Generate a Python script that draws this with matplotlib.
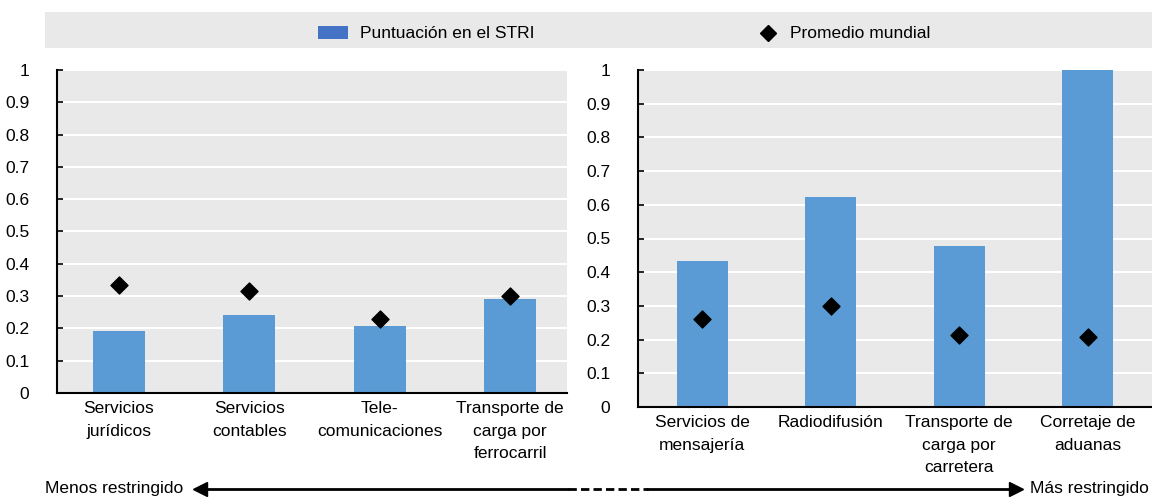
import matplotlib.pyplot as plt
from matplotlib.patches import Rectangle
from matplotlib.lines import Line2D

# data
left_labels = ["Servicios\njurídicos", "Servicios\ncontables", "Tele-\ncomunicaciones",
               "Transporte de\ncarga por\nferrocarril"]
left_stri = [0.192, 0.240, 0.207, 0.291]
left_avg = [0.335, 0.317, 0.230, 0.301]

right_labels = ["Servicios de\nmensajería", "Radiodifusión", "Transporte de\ncarga por\ncarretera",
                "Corretaje de\naduanas"]
right_stri = [0.433, 0.622, 0.477, 1.0]
right_avg = [0.260, 0.299, 0.214, 0.207]

yticks = [0, 0.1, 0.2, 0.3, 0.4, 0.5, 0.6, 0.7, 0.8, 0.9, 1]
ytick_labels = ["0", "0.1", "0.2", "0.3", "0.4", "0.5", "0.6", "0.7", "0.8", "0.9", "1"]

BAR = "#5B9BD5"
BG = "#E9E9E9"

plt.rcParams['font.family'] = ['Liberation Sans Narrow', 'Liberation Sans', 'DejaVu Sans']
plt.rcParams['font.size'] = 12.5

fig = plt.figure(figsize=(11.52, 4.97), dpi=100)

ax1 = fig.add_axes([57/1152, 1-393/497, (567-57)/1152, (393-70)/497])
ax2 = fig.add_axes([638/1152, 1-407/497, (1152-638)/1152, (407-70)/497])


def draw(ax, labels, stri, avg, xmin, xmax):
    x = list(range(len(labels)))
    ax.set_facecolor(BG)
    ax.set_axisbelow(True)
    ax.grid(axis="y", color="white", linewidth=1.5)
    ax.bar(x, stri, width=0.4, color=BAR, zorder=2)
    ax.scatter(x, avg, marker="D", s=75, color="black", zorder=3)
    ax.set_xlim(xmin, xmax)
    ax.set_ylim(0, 1)
    ax.set_yticks(yticks)
    ax.set_yticklabels(ytick_labels)
    ax.set_xticks(x)
    ax.set_xticklabels(labels, linespacing=1.6)
    ax.tick_params(axis="x", length=0, pad=6)
    ax.tick_params(axis="y", direction="in", length=4, width=1.2, pad=20)
    for s in ["top", "right"]:
        ax.spines[s].set_visible(False)
    for s in ["left", "bottom"]:
        ax.spines[s].set_linewidth(1.5)


draw(ax1, left_labels, left_stri, left_avg, -0.475, 3.437)
draw(ax2, right_labels, right_stri, right_avg, -0.5, 3.5)

# legend band
yl = 1-33/497
fig.add_artist(Rectangle((45/1152, 1-48/497), 1-45/1152, 36/497, transform=fig.transFigure,
                         facecolor=BG, edgecolor="none"))
fig.add_artist(Rectangle((318/1152, 1-39/497), 30/1152, 13/497, transform=fig.transFigure,
                         facecolor="#4472C4", edgecolor="none"))
fig.text(360/1152, yl, "Puntuación en el STRI", va="center", ha="left")
fig.add_artist(Line2D([768/1152], [yl], marker="D", markersize=8.5, color="black",
                      transform=fig.transFigure))
fig.text(790/1152, yl, "Promedio mundial", va="center", ha="left")

# bottom arrow
ya = 1-489/497
fig.text(183/1152, ya, "Menos restringido", ha="right", va="center")
fig.text(1030/1152, ya, "Más restringido", ha="left", va="center")
fig.add_artist(Line2D([205/1152, 568/1152], [ya, ya], color="black", lw=2,
                      transform=fig.transFigure))
fig.add_artist(Line2D([568/1152, 648/1152], [ya, ya], color="black", lw=2, ls=(0, (3, 1.5)),
                      transform=fig.transFigure))
fig.add_artist(Line2D([648/1152, 1010/1152], [ya, ya], color="black", lw=2,
                      transform=fig.transFigure))
fig.add_artist(Line2D([200/1152], [ya], marker="<", markersize=10, color="black",
                      transform=fig.transFigure))
fig.add_artist(Line2D([1016/1152], [ya], marker=">", markersize=10, color="black",
                      transform=fig.transFigure))

fig.savefig("out.png", dpi=100)
